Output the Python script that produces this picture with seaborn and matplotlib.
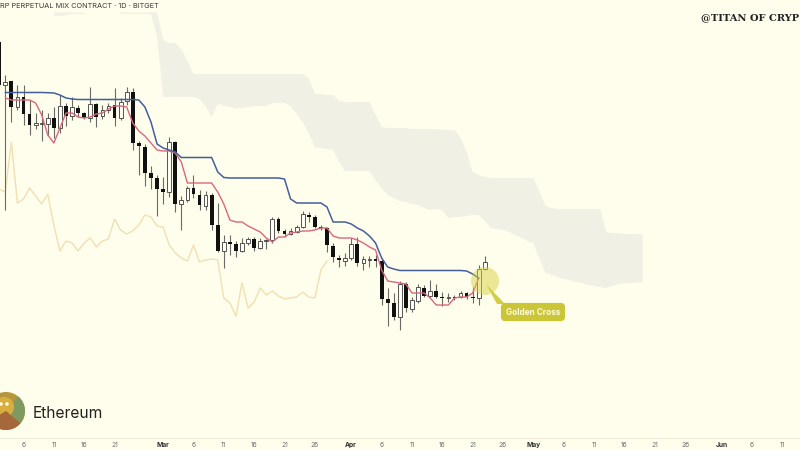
import numpy as np
import pandas as pd
import matplotlib
matplotlib.use("Agg")
import matplotlib.pyplot as plt
from matplotlib.patches import Circle, Polygon, FancyBboxPatch, Wedge
import seaborn as sns

nan = float("nan")

# Day numbers count from 6 Feb = 0. Price is a unitless chart level (smaller number = higher on the page).
first_day = -4
body_top = [42,82,81,97,97,114,123,123,118,118,106,106,107,108,113,104,104,110,106,105,102,92,92,143,147,173,178,189,142,142,
            200,188,188,195,195,195,225,242,242,244,243,239,239,241,240,219,219,231,231,227,214,215,217,227,228,246,258,258,244,244,
            259,259,259,261,299,303,284,284,300,287,288,291,291,297,297,297,293,293,297,269,262]
body_bottom = [85,85,107,107,114,125,124.5,124,124,128,128,116,116,113,118,118,117,116,110,118,118,101,143,146,173,178,189,192,192,204,
               204,200,194,205,206,225,251,251,244,251,251,243,248,248,241,240,231,234,234,232,227,217,227,228,245,257,260,261,258,263,
               263,260,261,299,303,317,317,308,309,301,296,296,297,298,298,298,297,297,298,298,269]
wick_top = [40,75,81,85,85,100,113,110,113,107,95,103,97,105,112,87,103,105,103,88,98,87,88,141,144,166,175,177,137,141,
            196,186,175,190,191,193,203,235,235,241,238,237,237,238,239,217,217,229,228,225,211,212,215,225,227,243,255,253,238,237,
            256,256,255,259,288,293,281,282,297,284,285,280,284,292,293,295,291,292,287,265,256]
wick_bottom = [88,210,122,110,125,135,129,141,135,138,133,126,120,117,119,122,127,119,113,126,120,105,150,175,186,189,216,204,197,212,
               230,202,198,210,210,230,252,268,255,257,252,245,251,249,249,243,233,237,235,233,228,222,228,230,252,262,267,266,260,266,
               270,267,267,305,326,320,330,312,312,303,297,297,298,306,302,300,298,299,303,305,270]
is_white = [0,1,0,1,0,0,1,1,1,0,1,0,1,0,0,1,0,1,1,0,1,1,0,0,0,0,0,0,1,0,
            1,1,0,0,1,0,0,1,0,0,1,1,0,1,1,1,0,0,1,1,1,0,0,0,0,0,0,1,1,0,
            1,1,0,0,0,0,1,0,1,1,0,1,0,0,1,0,1,0,0,1,1]

kijun_start = -3
kijun = [92.5,92.5,92.5,92.5,92.5,92.5,92.5,92.7,93,95,98,99,99.5,99.5,99.5,99.5,99.5,99.5,99.5,99.5,99.5,99.5,100,107,122,144,
         148,150,152,157.5,157.5,157.5,157.5,157.5,157.5,172,177.5,178,178,178,178,178,178,178,178,178,179,199,203,203,203,203,203,
         207,222,222,222,224,228,231,236,243,258,267,269,270.5,270.5,270.5,270.5,270.5,270.5,270.5,270.5,270.5,270.5,270.5,271,274,278]
tenkan = [98,100,100,100,100,103,115,135,143,128,113,113,117,118,117,114,113,109,106,106,107,123,131,136,143,150,151,151,153,162,
          183,183,183,183,183,192,204,220,222,222,226,229,232,238,242,237,237,233,232,231,231,230,228,228,236,238,238,238,240,243,
          247,250,270,281,282,283,284,293,293,293,298,305,305,305,298,297,297,293,278]

chikou_start = -4
chikou = [189,192,142,203,199,188,196,204,194,225,251,241,243,251,243,238,247,241,239,219,230,234,231,225,215,217,226,227,245,253,
          258,261,245,262,260,259,260,298,303,316,283,308,302,288,295,291,296,299,298,297,292,297,298,270,261]

cloud_start = 5
cloud_upper = [12.5,12.5,12.5,12.5,12.5,12.5,nan,nan,nan,nan,nan,12.5,12.5,12.5,12.5,12.5,12.5,12.5,
               40,43,43,49,61,74,74,74,74,74,74,74,74,74,74,74,74,74,74,74,74,74,74,74,78,94,94,95,95,101,102,102,102,102,102,
               115,127,128,128,128,128,129,129,129,129,129,130,130,130,138,152,172,175,177,178,178,178,178,178,178,178,178,
               192,206,208,209,209,209,209,209,209,209,209,232,233,233,234,234,234,234]
cloud_lower = [16,16,15,14,14,14,nan,nan,nan,nan,nan,14,14,14,14,14,14,36,
               97,97,97,97,97,97,99,106,117,104,106,107,108.5,108,107,106,106,106,103,103,103,106,114,122,133,147,148,149,150,162,171,171,171,171,171,
               180,188,195,198,201,202,204,205,208,210,209,210,218,217,217,216,215,215,221,228,229,230,232,235,238,241,243,
               259,273,275,277,279,280,282,283,285,286,287,288,286,284,283.5,283,282.5,282,282,282,282]
n_cloud = min(len(cloud_upper), len(cloud_lower))
cloud_upper, cloud_lower = cloud_upper[:n_cloud], cloud_lower[:n_cloud]

tick_days = [0,5,10,15,23,28,33,38,43,48,54,59,64,69,74,79,84,89,94,99,104,109,115,120,125]
tick_labels = ["6","11","16","21","Mar","6","11","16","21","26","Apr","6","11","16","21","26","May","6","11","16","21","26","Jun","6","11"]
months = {"Mar","Apr","May","Jun"}

title = "RP PERPETUAL MIX CONTRACT · 1D · BITGET"
watermark = "@TITAN OF CRYP"
asset = "Ethereum"
callout = "Golden Cross"

BG = "#fffdeb"
sns.set_theme(style="white", rc={"figure.facecolor": BG, "axes.facecolor": BG})
plt.rcParams["font.family"] = ["Inter", "DejaVu Sans"]

fig = plt.figure(figsize=(8, 4.5), dpi=100)
ax = fig.add_axes([0, 12/450, 1, 438/450])

n = min(map(len, [body_top, body_bottom, wick_top, wick_bottom, is_white]))
candles = pd.DataFrame({"day": np.arange(first_day, first_day + n), "top": body_top[:n], "bottom": body_bottom[:n],
                        "high": wick_top[:n], "low": wick_bottom[:n], "white": np.array(is_white[:n], dtype=bool)})
candles["h"] = (candles["bottom"] - candles["top"]).clip(lower=1.0)
cloud_days = np.arange(cloud_start, cloud_start + n_cloud)
ax.fill_between(cloud_days, cloud_upper, cloud_lower, color="#f1f0e4", lw=0, zorder=1)

ck = pd.DataFrame({"day": np.arange(chikou_start, chikou_start + len(chikou)), "v": chikou})
sns.lineplot(data=ck, x="day", y="v", ax=ax, color="#f0e0b2", lw=1.0, zorder=2)

ax.vlines(candles["day"], candles["high"], candles["low"], color="#6a6a66", lw=0.8, zorder=3)
dn = candles[~candles["white"]]
wh = candles[candles["white"]]
ax.bar(dn["day"], dn["h"], bottom=dn["top"], width=0.62, color="#111111", lw=0, zorder=4)
ax.bar(wh["day"], wh["h"], bottom=wh["top"], width=0.62, facecolor="#fffef6", edgecolor="#3a3a3a", lw=0.6, zorder=4)

kj = pd.DataFrame({"day": np.arange(kijun_start, kijun_start + len(kijun)), "v": kijun})
tk = pd.DataFrame({"day": np.arange(kijun_start, kijun_start + len(tenkan)), "v": tenkan})
sns.lineplot(data=tk, x="day", y="v", ax=ax, color="#d9687e", lw=1.0, zorder=5)
sns.lineplot(data=kj, x="day", y="v", ax=ax, color="#43609c", lw=1.1, zorder=5)

ax.set_xlim(-23.5/6.07, (800-23.5)/6.07)
ax.set_ylim(438, 0)
ax.set_xlabel(""); ax.set_ylabel("")
ax.set_yticks([])
ax.set_xticks(tick_days)
ax.set_xticklabels(tick_labels, fontsize=4.8, color="#707070")
for lab in ax.get_xticklabels():
    if lab.get_text() in months:
        lab.set_fontweight("bold"); lab.set_color("#333333")
ax.tick_params(axis="x", length=0, pad=3.2)
for s in ["top", "left", "right"]:
    ax.spines[s].set_visible(False)
ax.spines["bottom"].set_color("#eeecd8"); ax.spines["bottom"].set_linewidth(0.8)

# Overlay in pixel units for annotation furniture
ov = fig.add_axes([0, 0, 1, 1], facecolor="none")
ov.set_xlim(0, 800); ov.set_ylim(450, 0); ov.axis("off")

ov.add_patch(Polygon([[486, 284], [497, 304], [505, 304]], closed=True, color="#d3cf42", lw=0, zorder=6))
ov.add_patch(Circle((485, 281), 14, facecolor="#d8d342", alpha=0.5, lw=0, zorder=3))
ov.add_patch(FancyBboxPatch((503, 305), 60, 14, boxstyle="round,pad=0,rounding_size=2", mutation_scale=1,
                            facecolor="#cbc638", edgecolor="#cbc638", lw=3, zorder=7))
ov.text(533, 312.5, callout, ha="center", va="center", color="#fdfbe0", fontsize=5.9, fontweight="bold", zorder=8)

ov.text(0, 6.5, title, ha="left", va="center", fontsize=5.3, color="#3a3a3a")
ov.text(701, 18, watermark, ha="left", va="center", fontsize=7.1, fontweight="bold", family="DejaVu Serif", color="#222222")
ov.text(33, 414, asset, ha="left", va="center", fontsize=11.2, color="#222222")

# Avatar
ov.add_patch(Circle((6, 411), 19, facecolor="#b8963f", lw=0))
ov.add_patch(Wedge((6, 411), 19, -50, 40, facecolor="#7f9a60", lw=0))
ov.add_patch(Circle((4, 407), 10, facecolor="#d8ae3e", lw=0))
ov.add_patch(Wedge((6, 411), 19, 40, 150, facecolor="#a5683a", lw=0))
ov.add_patch(Circle((7, 404), 1.8, facecolor="#fff8e0", lw=0))
ov.add_patch(Circle((1, 404), 1.8, facecolor="#fff8e0", lw=0))

fig.savefig("out.png", dpi=100, facecolor=BG)
